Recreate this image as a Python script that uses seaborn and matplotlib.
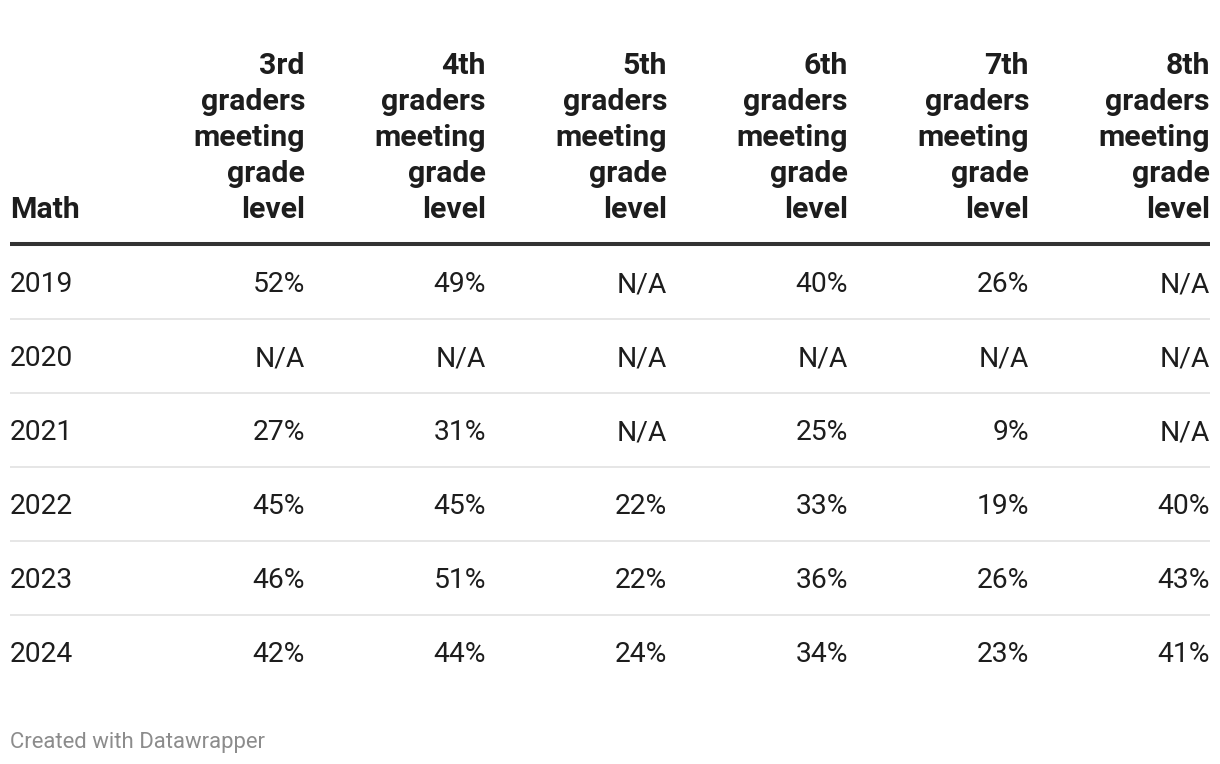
import matplotlib
matplotlib.use("Agg")
import matplotlib.pyplot as plt
import seaborn as sns

# Données du tableau
years = ["2019", "2020", "2021", "2022", "2023", "2024"]
grades = ["3rd", "4th", "5th", "6th", "7th", "8th"]
grade3 = [52, None, 27, 45, 46, 42]
grade4 = [49, None, 31, 45, 51, 44]
grade5 = [None, None, None, 22, 22, 24]
grade6 = [40, None, 25, 33, 36, 34]
grade7 = [26, None, 9, 19, 26, 23]
grade8 = [None, None, None, 40, 43, 41]
columns = [grade3, grade4, grade5, grade6, grade7, grade8]

sns.set_theme(style="white")
plt.rcParams['font.family'] = ['Roboto', 'DejaVu Sans']

W, H = 1220, 764
fig = plt.figure(figsize=(W / 100, H / 100), dpi=100)
ax = fig.add_axes([0, 0, 1, 1])
ax.set_xlim(0, W)
ax.set_ylim(H, 0)
ax.axis('off')

txt = '#1d1d1d'
fs = 20.3
fs_head = 21.8
left, right = 10, 1210
col_right = [305 + 181 * i for i in range(len(grades))]

# En-tête
header_base = 218
line_h = 36
ax.text(left, header_base, "Math", ha='left', va='baseline',
        fontsize=fs_head, fontweight='bold', color=txt)
for x, g in zip(col_right, grades):
    lines = [g, "graders", "meeting", "grade", "level"]
    for k, word in enumerate(reversed(lines)):
        ax.text(x, header_base - k * line_h, word, ha='right', va='baseline',
                fontsize=fs_head, fontweight='bold', color=txt)

ax.plot([left, right], [243.5, 243.5], color='#333333', lw=2.9,
        solid_capstyle='butt')

# Lignes
row_base = 292
row_h = 74
for i, yr in enumerate(years):
    yb = row_base + i * row_h
    ax.text(left, yb, yr, ha='left', va='baseline', fontsize=fs, color=txt)
    for x, col in zip(col_right, columns):
        v = col[i]
        label = "N/A" if v is None else f"{v}%"
        ax.text(x, yb, label, ha='right', va='baseline', fontsize=fs, color=txt)
    if i < len(years) - 1:
        ysep = yb + 27
        ax.plot([left, right], [ysep, ysep], color='#e6e6e6', lw=1.4,
                solid_capstyle='butt')

ax.text(left, 748, "Created with Datawrapper", ha='left', va='baseline',
        fontsize=15.9, color='#8c8c8c')

fig.savefig("out.png", dpi=100, facecolor='white')
